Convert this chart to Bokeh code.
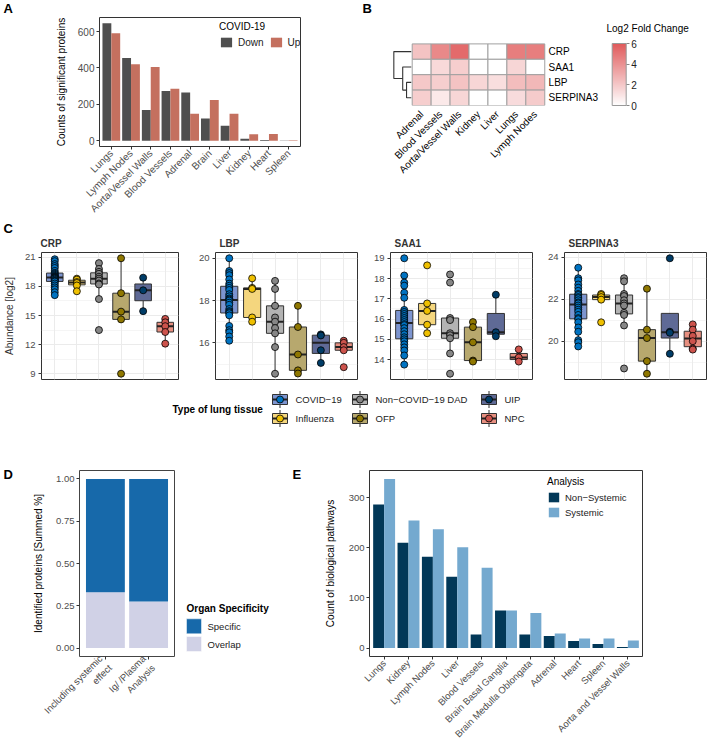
import math
import numpy as np
from bokeh.plotting import figure
from bokeh.models import (Range1d, FixedTicker, Legend, LegendItem, Label, ColorBar,
                          LinearColorMapper, NumeralTickFormatter, ColumnDataSource)
from bokeh.layouts import row, column
from bokeh.embed import file_html
from bokeh.resources import INLINE
from bokeh.core.properties import value

FONT = "Liberation Sans"
TICK_COLOR = "#4D4D4D"
DARK = "#333333"

# ---------------- data ----------------
# Panel A
a_tissues = ["Lungs", "Lymph Nodes", "Aorta/Vessel Walls", "Blood Vessels", "Adrenal",
             "Brain", "Liver", "Kidney", "Heart", "Spleen"]
a_down = [645, 455, 168, 273, 265, 122, 82, 10, 4, 1]
a_up = [590, 420, 405, 285, 148, 224, 148, 35, 37, 2]

# Panel B
b_proteins = ["CRP", "SAA1", "LBP", "SERPINA3"]
b_tissues = ["Adrenal", "Blood Vessels", "Aorta/Vessel Walls", "Kidney", "Liver", "Lungs", "Lymph Nodes"]
b_crp = [2.2, 4.3, 5.4, 0.0, 0.0, 4.7, 4.7]
b_saa1 = [0.0, 1.4, 1.8, 0.0, 0.0, 1.5, 0.0]
b_lbp = [2.0, 1.8, 2.2, 1.5, 1.2, 2.4, 2.6]
b_serpina3 = [1.8, 0.8, 1.5, 0.0, 0.0, 1.3, 1.9]
b_merges = [("LBP", "SERPINA3", 0.27), ("SAA1", 0, 0.49), ("CRP", 1, 1.0)]

# Panel C
c_groups = ["COVID\u221219", "Influenza", "Non\u2212COVID\u221219 DAD", "OFP", "UIP", "NPC"]
crp = {
    "COVID\u221219": [20.8, 20.6, 20.3, 20.1, 19.9, 19.6, 19.4, 19.3, 19.2, 19.1, 19.0, 19.0, 18.95,
                      18.9, 18.85, 18.8, 18.7, 18.6, 18.55, 18.5, 18.3, 18.1, 17.9, 17.7, 17.4, 17.1],
    "Influenza": [18.8, 18.7, 18.45, 18.35, 18.1, 17.5],
    "Non\u2212COVID\u221219 DAD": [20.4, 19.8, 19.5, 19.3, 19.0, 18.8, 18.6, 18.3, 18.2, 16.7, 13.5],
    "OFP": [20.9, 17.3, 15.4, 14.6, 9.0],
    "UIP": [18.9, 17.6, 15.45],
    "NPC": [14.65, 14.3, 13.9, 13.3, 12.1],
}
lbp = {
    "COVID\u221219": [20.0, 19.4, 19.3, 19.2, 19.0, 18.8, 18.7, 18.6, 18.5, 18.3, 18.2, 18.1, 18.05,
                      18.0, 17.9, 17.8, 17.6, 17.5, 17.45, 17.4, 17.3, 16.8, 16.6, 16.5, 16.3, 16.1],
    "Influenza": [19.05, 18.6, 18.55, 17.2, 17.0],
    "Non\u2212COVID\u221219 DAD": [18.93, 18.55, 17.75, 17.2, 17.0, 16.7, 16.45, 15.8, 14.54],
    "OFP": [17.75, 16.75, 15.45, 14.7, 14.55],
    "UIP": [16.4, 16.35, 15.65, 15.05],
    "NPC": [16.1, 16.0, 15.8, 15.65, 14.85],
}
saa1 = {
    "COVID\u221219": [19.0, 18.15, 17.8, 17.65, 17.3, 17.05, 16.45, 16.35, 16.25, 16.15, 16.05, 15.95, 15.85,
                      15.75, 15.7, 15.55, 15.4, 15.25, 15.1, 15.0, 14.9, 14.75, 14.6, 14.45, 14.2, 13.75],
    "Influenza": [18.65, 16.77, 16.4, 15.72, 15.3],
    "Non\u2212COVID\u221219 DAD": [18.2, 17.8, 16.05, 15.95, 15.3, 15.2, 15.05, 14.3, 13.3],
    "OFP": [15.85, 15.6, 14.85, 13.95, 13.9],
    "UIP": [17.2, 15.35, 15.15],
    "NPC": [14.5, 14.1, 13.9],
}
serpina3 = {
    "COVID\u221219": [23.5, 23.0, 22.9, 22.7, 22.55, 22.4, 22.25, 22.2, 22.1, 22.05, 21.95, 21.85, 21.8,
                      21.7, 21.6, 21.5, 21.4, 21.25, 21.1, 21.05, 20.9, 20.65, 20.45, 20.05, 19.95, 19.75],
    "Influenza": [22.25, 22.2, 22.1, 21.98, 20.9],
    "Non\u2212COVID\u221219 DAD": [23.0, 22.85, 22.25, 22.15, 21.95, 21.8, 21.7, 21.35, 21.25, 20.75, 18.7],
    "OFP": [22.5, 20.55, 20.15, 19.05, 18.45],
    "UIP": [23.95, 20.45, 20.4, 19.4],
    "NPC": [20.8, 20.55, 20.25, 20.0, 19.65, 19.6],
}
crp_ticks = [9, 12, 15, 18, 21]
lbp_ticks = [16, 18, 20]
saa1_ticks = [14, 15, 16, 17, 18, 19]
serpina3_ticks = [20, 22, 24]

# Panel D
d_groups = ["Including systemic\neffect", "Ig/ /Plasma\nAnalysis"]
d_overlap = [0.33, 0.275]
d_specific = [0.67, 0.725]
d_legend = ["Specific", "Overlap"]

# Panel E
e_tissues = ["Lungs", "Kidney", "Lymph Nodes", "Liver", "Blood Vessels", "Brain Basal Ganglia",
             "Brain Medulla Oblongata", "Adrenal", "Heart", "Spleen", "Aorta and Vessel Walls"]
e_nonsys = [286, 210, 182, 142, 27, 75, 27, 24, 14, 8, 2]
e_sys = [337, 254, 237, 201, 160, 75, 70, 29, 19, 19, 15]

# ---------------- colours ----------------
A_DOWN, A_UP = "#4F4F4F", "#C4705F"
C_POINT = ["#0073C2", "#EFC000", "#868686", "#8F7700", "#003C67", "#CD534C"]
C_BOX = ["#7D95D0", "#F4D67E", "#B3B3B3", "#B7A86E", "#5F6A96", "#E78F80"]
D_SPEC, D_OVER = "#1769AA", "#D0D1E6"
E_NS, E_S = "#023858", "#74A9CF"

TOTAL_W = 709


# ---------------- helpers ----------------
def style_axis(ax, size="9.5px", color=TICK_COLOR):
    ax.axis_line_color = None
    ax.major_tick_line_color = DARK
    ax.major_tick_out = 3
    ax.major_tick_in = 0
    ax.minor_tick_line_color = None
    ax.major_label_text_font = FONT
    ax.major_label_text_font_size = size
    ax.major_label_text_color = color
    ax.major_label_standoff = 2
    ax.axis_label_text_font = FONT
    ax.axis_label_text_font_size = "10px"
    ax.axis_label_text_font_style = "normal"
    ax.axis_label_text_color = "black"


def make_fig(w, h, left, right, top, bottom, xr, yr, outline=DARK):
    p = figure(width=w, height=h, x_range=xr, y_range=yr, output_backend="svg",
               toolbar_location=None, min_border_left=left, min_border_right=right,
               min_border_top=top, min_border_bottom=bottom, frame_align=False)
    p.outline_line_color = outline
    p.outline_line_width = 1
    p.xgrid.visible = False
    p.ygrid.visible = False
    p.background_fill_color = "white"
    p.border_fill_color = "white"
    for ax in list(p.xaxis) + list(p.yaxis):
        style_axis(ax)
    return p


def make_strip(w, h):
    """Text-only canvas measured in pixels, y downwards."""
    p = figure(width=w, height=h, x_range=Range1d(0, w), y_range=Range1d(h, 0),
               output_backend="svg", toolbar_location=None, x_axis_type=None, y_axis_type=None,
               min_border=0, frame_align=False)
    p.outline_line_color = None
    p.xgrid.visible = False
    p.ygrid.visible = False
    return p


def strip_text(p, xs, ys, texts, size="10px", style="normal", color="black", baseline="middle", align="left"):
    p.text(x=xs, y=ys, text=texts, text_baseline=baseline, text_align=align,
           text_font=value(FONT), text_font_size=size, text_font_style=style, text_color=color)


def add_label(p, x, y, text, size="10px", style="normal", color="black", align="left", baseline="middle"):
    p.add_layout(Label(x=x, y=y, x_units="screen", y_units="screen", text=text, text_font=FONT,
                       text_font_size=size, text_font_style=style, text_color=color,
                       text_align=align, text_baseline=baseline))


def cat_axis(ax, positions, names, size="9.5px", color=TICK_COLOR):
    ax.ticker = FixedTicker(ticks=[float(v) for v in positions])
    ax.major_label_overrides = {float(v): t for v, t in zip(positions, names)}
    ax.major_label_orientation = math.pi / 4
    ax.major_label_text_font_size = size
    ax.major_label_text_color = color


def style_legend(leg, title_style="normal", gw=14, gh=13, spacing=3):
    leg.title_text_font = FONT
    leg.title_text_font_size = "10px"
    leg.title_text_font_style = title_style
    leg.title_text_color = "black"
    leg.title_standoff = 4
    leg.label_text_font = FONT
    leg.label_text_font_size = "9.5px"
    leg.label_text_color = "#222222"
    leg.glyph_width = gw
    leg.glyph_height = gh
    leg.label_height = gh
    leg.label_standoff = 5
    leg.spacing = spacing
    leg.padding = 0
    leg.margin = 0
    leg.border_line_color = None
    leg.background_fill_alpha = 0


LETTER = dict(size="13px", style="bold", baseline="middle")

# ---------------- top strip (panel letters A, B) ----------------
TOP_H = 17
A_W = 363
s_top = make_strip(TOTAL_W, TOP_H)
strip_text(s_top, [3, 362], [7.8, 7.8], ["A", "B"], **LETTER)

# ---------------- Panel A ----------------
R1_H = 203
na = len(a_tissues)
xa = np.arange(1, na + 1)
amax = max(max(a_down), max(a_up))
A_L, A_R, A_T, A_B = 99, 63, 0, 74
pa = make_fig(A_W, R1_H, A_L, A_R, A_T, A_B, Range1d(0.4, na + 0.6), Range1d(-0.05 * amax, 1.05 * amax))
r_down = pa.vbar(x=xa - 0.225, bottom=0, top=a_down, width=0.45, fill_color=A_DOWN, line_color=None)
r_up = pa.vbar(x=xa + 0.225, bottom=0, top=a_up, width=0.45, fill_color=A_UP, line_color=None)
cat_axis(pa.xaxis[0], xa, a_tissues, size="10px")
pa.yaxis.ticker = FixedTicker(ticks=[0, 200, 400, 600])
pa.yaxis.major_label_text_font_size = "10px"
pa.yaxis.axis_label = "Counts of significant proteins"
pa.yaxis.axis_label_standoff = 8
leg_a = Legend(items=[LegendItem(label="Down", renderers=[r_down]), LegendItem(label="Up", renderers=[r_up])],
               orientation="horizontal", location=(120, 98), title="COVID-19")
style_legend(leg_a, gw=14, gh=12, spacing=5)
leg_a.label_text_font_size = "10px"
pa.add_layout(leg_a)

# ---------------- Panel B ----------------
CELL_W, CELL_H = 18.94, 15.4
B_W, B_L, B_R, B_T, B_B = TOTAL_W - A_W, 29, 19, 1, 115
b_fw, b_fh = B_W - B_L - B_R, R1_H - B_T - B_B
bx0 = -1.04
pb = make_fig(B_W, R1_H, B_L, B_R, B_T, B_B, Range1d(bx0, bx0 + b_fw / CELL_W),
              Range1d(0, b_fh / CELL_H), outline=None)
pb.yaxis.visible = False

top_c = (224, 90, 91)
palette = []
for k in range(256):
    t = k / 255
    palette.append("#%02x%02x%02x" % tuple(int(round(255 + (c - 255) * t)) for c in top_c))
mapper = LinearColorMapper(palette=palette, low=0, high=6)

b_rows = [b_crp, b_saa1, b_lbp, b_serpina3]
nrow = len(b_rows)
cx, cy, cv = [], [], []
for i, vals in enumerate(b_rows):
    for j, v in enumerate(vals):
        cx.append(j + 0.5)
        cy.append(nrow - i - 0.5)
        cv.append(v)
src_b = ColumnDataSource(dict(x=cx, y=cy, v=cv))
pb.rect(x="x", y="y", width=1, height=1, source=src_b,
        fill_color={"field": "v", "transform": mapper}, line_color="#A0A0A0", line_width=1)

# dendrogram
leaf_y = {name: nrow - i - 0.5 for i, name in enumerate(b_proteins)}
LEAF_X = -0.05
DSCALE = 0.92
nodes = []
dxs, dys = [], []


def node_pos(c):
    if isinstance(c, str):
        return LEAF_X, leaf_y[c]
    return nodes[c]


for a_, b_, h in b_merges:
    xa_, ya_ = node_pos(a_)
    xb_, yb_ = node_pos(b_)
    xh = LEAF_X - h * DSCALE
    dxs.append([xa_, xh, xh, xb_])
    dys.append([ya_, ya_, yb_, yb_])
    nodes.append((xh, (ya_ + yb_) / 2))
pb.multi_line(xs=dxs, ys=dys, line_color="#333333", line_width=1.1)

pb.text(x=[len(b_tissues) + 0.2] * nrow, y=[leaf_y[n] for n in b_proteins], text=b_proteins,
        text_baseline="middle", text_align="left", text_font=value(FONT), text_font_size="10px",
        text_color="black")
cat_axis(pb.xaxis[0], [j + 0.5 for j in range(len(b_tissues))], b_tissues, size="10px", color="black")
pb.xaxis.major_tick_line_color = None
pb.xaxis.major_label_standoff = 4

cb = ColorBar(color_mapper=mapper, location=(219.7, 0), width=14, height=int(round(nrow * CELL_H)),
              padding=0, margin=0, ticker=FixedTicker(ticks=[0, 2, 4, 6]),
              major_label_text_font=FONT, major_label_text_font_size="10px",
              major_label_text_color="#222222", major_tick_line_color="#888888",
              major_tick_in=0, major_tick_out=3, bar_line_color="#999999",
              border_line_color=None, background_fill_alpha=0, label_standoff=2)
pb.add_layout(cb)
add_label(pb, 214, b_fh - 10, "Log2 Fold Change", size="10px")

# ---------------- Panel C ----------------
C_TITLE_H = 29
C_H, C_T, C_B = 135, 3, 5
c_specs = [("CRP", crp, crp_ticks, 190, 36, 12),
           ("LBP", lbp, lbp_ticks, 175, 25, 8),
           ("SAA1", saa1, saa1_ticks, 175, 25, 8),
           ("SERPINA3", serpina3, serpina3_ticks, 169, 24, 3)]
s_c = make_strip(TOTAL_W, C_TITLE_H)
strip_text(s_c, [3], [8], ["C"], **LETTER)
c_figs = []
ng = len(c_groups)
xc = np.arange(1, ng + 1)
x_off = 0
title_x = []
for idx, (pname, data, ticks, w, left, right) in enumerate(c_specs):
    title_x.append(x_off + left + 4)
    x_off += w
    allv = [v for g in c_groups for v in data[g]]
    lo, hi = min(allv), max(allv)
    pad = 0.05 * (hi - lo)
    yr = Range1d(lo - pad, hi + pad)
    p = make_fig(w, C_H, left, right, C_T, C_B, Range1d(0.4, ng + 0.6), yr)
    p.xaxis.visible = False
    step = ticks[1] - ticks[0]
    minor = [t + step / 2 for t in [ticks[0] - step] + ticks if lo - pad < t + step / 2 < hi + pad]
    p.yaxis.ticker = FixedTicker(ticks=ticks, minor_ticks=minor)
    p.ygrid.visible = True
    p.ygrid.ticker = FixedTicker(ticks=ticks, minor_ticks=minor)
    p.ygrid.grid_line_color = "#EBEBEB"
    p.ygrid.grid_line_width = 1
    p.ygrid.minor_grid_line_color = "#EBEBEB"
    p.ygrid.minor_grid_line_width = 0.5
    p.xgrid.visible = True
    p.xgrid.ticker = FixedTicker(ticks=[float(v) for v in xc])
    p.xgrid.grid_line_color = "#EBEBEB"
    p.xgrid.grid_line_width = 1

    q1s, meds, q3s, los, his = [], [], [], [], []
    for g in c_groups:
        a = np.array(data[g], dtype=float)
        q1, med, q3 = np.percentile(a, [25, 50, 75])
        iqr = q3 - q1
        q1s.append(q1); meds.append(med); q3s.append(q3)
        los.append(a[a >= q1 - 1.5 * iqr].min())
        his.append(a[a <= q3 + 1.5 * iqr].max())
    p.segment(x0=xc, y0=q3s, x1=xc, y1=his, line_color=DARK, line_width=1)
    p.segment(x0=xc, y0=q1s, x1=xc, y1=los, line_color=DARK, line_width=1)
    p.vbar(x=xc, bottom=q1s, top=q3s, width=0.75, fill_color=C_BOX, line_color=DARK, line_width=1)
    p.segment(x0=xc - 0.375, y0=meds, x1=xc + 0.375, y1=meds, line_color="#222222", line_width=2)
    px, py, pc = [], [], []
    for k, g in enumerate(c_groups):
        for v in data[g]:
            px.append(k + 1); py.append(v); pc.append(C_POINT[k])
    p.scatter(x=px, y=py, size=7, fill_color=pc, line_color="black", line_width=0.8)
    if idx == 0:
        p.yaxis.axis_label = "Abundance [log2]"
        p.yaxis.axis_label_standoff = 7
        p.yaxis.axis_label_text_color = DARK
    c_figs.append(p)
strip_text(s_c, title_x, [23] * len(c_specs), [s[0] for s in c_specs], size="10px", style="bold", color=DARK)

# legend strip for panel C
LG_H = 82
pl = make_strip(TOTAL_W, LG_H)
col_x = [279.5, 359.5, 488.5]
row_y = [15, 34]
kx = np.array([col_x[i // 2] for i in range(ng)])
ky = np.array([row_y[i % 2] for i in range(ng)])
pl.segment(x0=kx, y0=ky - 8.5, x1=kx, y1=ky + 8.5, line_color=DARK, line_width=1)
pl.rect(x=kx, y=ky, width=15, height=10, fill_color=C_BOX, line_color=DARK, line_width=1)
pl.segment(x0=kx - 7.5, y0=ky, x1=kx + 7.5, y1=ky, line_color="#222222", line_width=2)
pl.scatter(x=kx, y=ky, size=7, fill_color=C_POINT, line_color="black", line_width=0.8)
strip_text(pl, list(kx + 15.5), list(ky), c_groups, size="9.5px", color="#222222")
strip_text(pl, [172], [25], ["Type of lung tissue"], size="10px", style="bold")

# ---------------- Row 3 ----------------
R3_H, R3_T, R3_B = 280, 4, 90
r3_fh = R3_H - R3_T - R3_B
SD_W, D_W, DL_W, SE_W = 30, 150, 108, 28
E_W = TOTAL_W - SD_W - D_W - DL_W - SE_W

sD = make_strip(SD_W, R3_H)
strip_text(sD, [3], [7.5], ["D"], **LETTER)
sE = make_strip(SE_W, R3_H)
strip_text(sE, [4], [7.5], ["E"], **LETTER)

# Panel D
pdd = make_fig(D_W, R3_H, 49, 6, R3_T, R3_B, Range1d(0.4, len(d_groups) + 0.6), Range1d(-0.05, 1.05),
               outline="#444444")
xd = np.arange(1, len(d_groups) + 1)
r_over = pdd.vbar(x=xd, bottom=0, top=d_overlap, width=0.9, fill_color=D_OVER, line_color=None)
r_spec = pdd.vbar(x=xd, bottom=d_overlap, top=np.add(d_overlap, d_specific), width=0.9,
                  fill_color=D_SPEC, line_color=None)
cat_axis(pdd.xaxis[0], xd, d_groups)
pdd.yaxis.ticker = FixedTicker(ticks=[0, 0.25, 0.5, 0.75, 1.0])
pdd.yaxis.formatter = NumeralTickFormatter(format="0.00")
pdd.yaxis.axis_label = "Identified proteins [Summed %]"
pdd.yaxis.axis_label_standoff = 9

# legend for D (separate strip)
pdl = make_strip(DL_W, R3_H)
dky = [159.8, 177.5]
pdl.rect(x=[13.5, 13.5], y=dky, width=15, height=15, fill_color=[D_SPEC, D_OVER], line_color="white",
         line_width=0.5)
strip_text(pdl, [27, 27], dky, d_legend, size="9.5px", color="#222222")
strip_text(pdl, [6], [141.7], ["Organ Specificity"], size="10px", style="bold")

# Panel E
E_L, E_R = 53, 67
ne = len(e_tissues)
xe = np.arange(1, ne + 1)
emax = max(max(e_nonsys), max(e_sys))
pe = make_fig(E_W, R3_H, E_L, E_R, R3_T, R3_B, Range1d(0.4, ne + 0.6), Range1d(-0.05 * emax, 1.05 * emax))
r_ns = pe.vbar(x=xe - 0.225, bottom=0, top=e_nonsys, width=0.45, fill_color=E_NS, line_color=None)
r_s = pe.vbar(x=xe + 0.225, bottom=0, top=e_sys, width=0.45, fill_color=E_S, line_color=None)
cat_axis(pe.xaxis[0], xe, e_tissues)
pe.yaxis.ticker = FixedTicker(ticks=[0, 100, 200, 300])
pe.yaxis.axis_label = "Count of biological pathways"
pe.yaxis.axis_label_standoff = 10
leg_e = Legend(items=[LegendItem(label="Non\u2212Systemic", renderers=[r_ns]),
                      LegendItem(label="Systemic", renderers=[r_s])],
               location=(178, r3_fh - 48), title="Analysis")
style_legend(leg_e, gw=13, gh=12, spacing=3)
pe.add_layout(leg_e)

layout = column(s_top, row(pa, pb), s_c, row(*c_figs), pl, row(sD, pdd, pdl, sE, pe))
html = file_html(layout, INLINE, title="Figure")
with open("out.html", "w") as f:
    f.write(html)
